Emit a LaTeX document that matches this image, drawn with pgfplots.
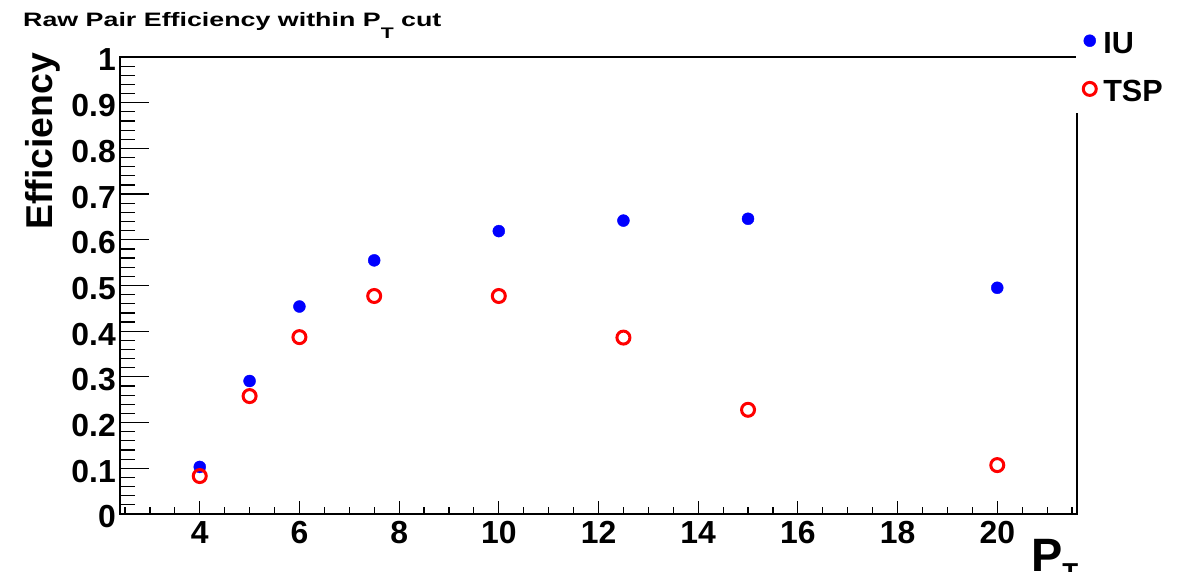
\documentclass[border=0pt]{standalone}
\usepackage{fontspec}
\setmainfont{Liberation Sans}
\usepackage{graphicx}
\usepackage{pgfplots}
\pgfplotsset{compat=1.18}

\begin{document}
\begin{tikzpicture}
\useasboundingbox (0,0) rectangle (1196bp,572bp);
\pgfplotsset{rootframe/.style={
    at={(120bp,58bp)}, anchor=south west,
    scale only axis, width=957bp, height=457bp,
    xmin=2.4, xmax=21.6, ymin=0, ymax=1,
    axis line style={line width=1.2bp},
    tick style={line width=1.2bp, black},
    tick align=inside, tick pos=left,
    ticklabel style={font=\fontsize{32}{32}\selectfont\bfseries},
    /pgf/number format/assume math mode=true}}

% frame and x ticks
\begin{axis}[rootframe,
    xtick={4,6,...,20},
    minor xtick={2.5,3,...,21.5},
    ytick=\empty,
    major tick length=13bp, minor tick length=7bp,
    xticklabel style={anchor=north, inner sep=0pt, yshift=-7bp}]
\end{axis}

% y ticks, data, legend
\begin{axis}[rootframe,
    xtick=\empty,
    ytick={0,0.1,0.2,0.3,0.4,0.5,0.6,0.7,0.8,0.9,1},
    minor y tick num=4,
    major tick length=29bp, minor tick length=15bp,
    /pgf/number format/fixed, /pgf/number format/precision=1,
    yticklabel style={anchor=east, inner sep=0pt, xshift=-4bp, yshift=-3bp},
    legend style={draw=none, fill=white,
        at={(axis description cs:0.9985,1.0788)}, anchor=north west,
        inner xsep=7.5bp, inner ysep=9bp, row sep=23bp, column sep=5bp,
        font=\fontsize{30.7}{31}\selectfont\bfseries,
        nodes={inner sep=2bp, text depth=0pt}},
    legend cell align=left,
    legend image code/.code={\draw[#1] plot coordinates {(0bp,2bp)};}]
\addplot[only marks, mark=*, mark size=6bp, blue, fill=blue] coordinates {
    (4,0.103) (5,0.291) (6,0.454) (7.5,0.555) (10,0.619)
    (12.5,0.642) (15,0.646) (20,0.495)};
\addplot[only marks, mark=o, mark size=6.5bp, red, line width=3bp] coordinates {
    (4,0.083) (5,0.258) (6,0.387) (7.5,0.477) (10,0.477)
    (12.5,0.386) (15,0.228) (20,0.107)};
\legend{IU,TSP}
\end{axis}

\node[rotate=90, anchor=base east, inner sep=0pt,
      font=\fontsize{37.5}{38}\selectfont\bfseries] at (52bp,519bp) {Efficiency};
\node[anchor=base west, inner sep=0pt] at (23bp,545.3bp)
    {\scalebox{1.38}[1]{\fontsize{19.5}{20}\selectfont\bfseries Raw Pair Efficiency within
     P\raisebox{-12.3bp}{\fontsize{15.4}{16}\selectfont\bfseries T} cut}};
\node[anchor=base west, inner sep=0pt,
      font=\fontsize{47}{47}\selectfont\bfseries] at (1031bp,0.4bp)
    {P\raisebox{-10bp}{\fontsize{26}{26}\selectfont\bfseries T}};
\end{tikzpicture}
\end{document}
